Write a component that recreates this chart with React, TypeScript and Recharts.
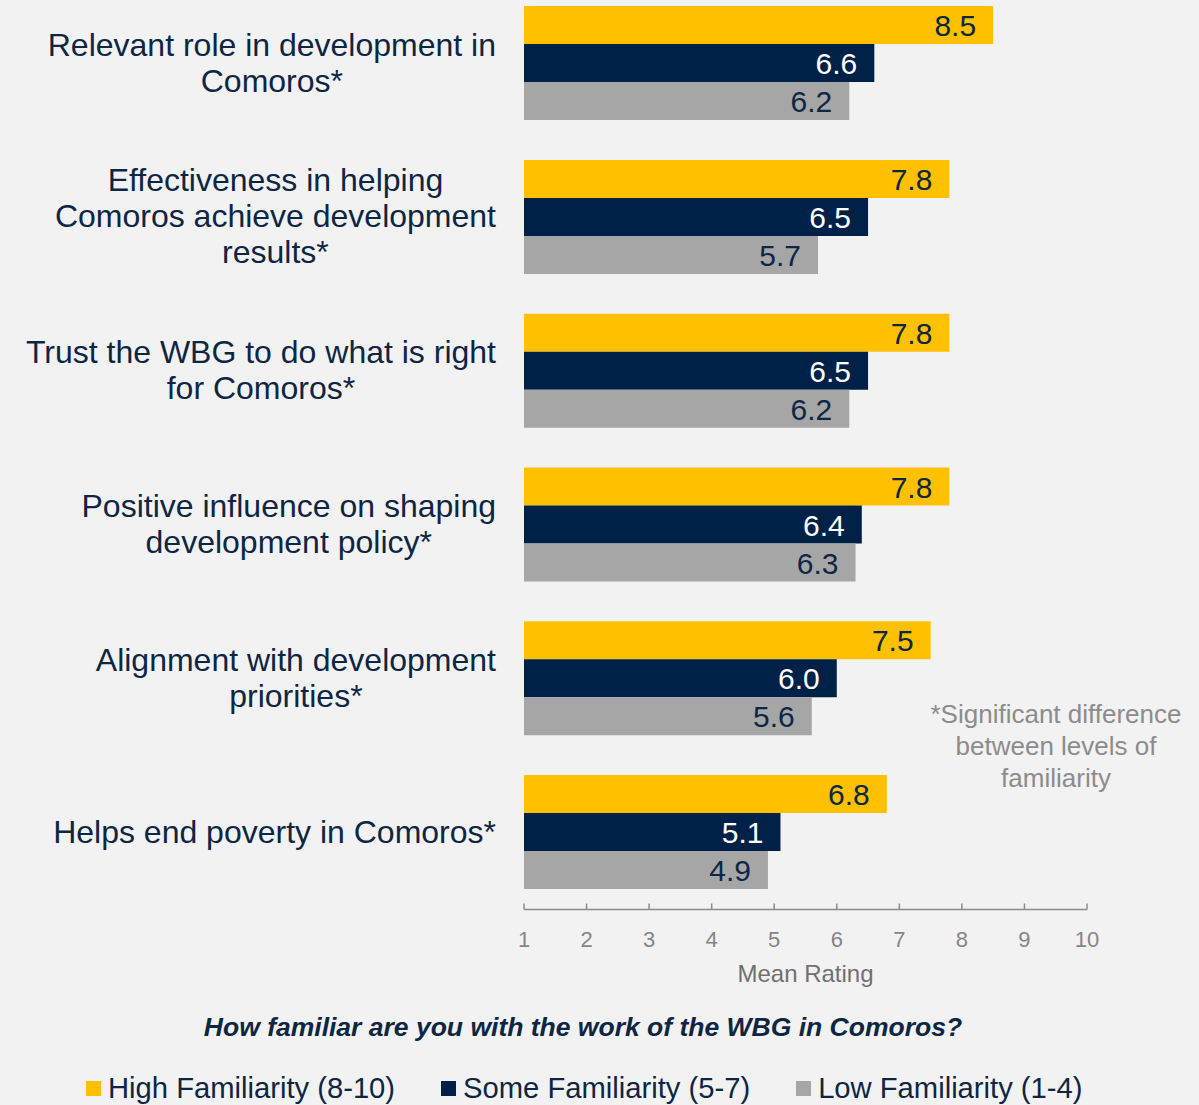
import React from "react";
import { BarChart, Bar, XAxis, YAxis, LabelList } from "recharts";

// categories (line breaks as in the slide)
const categories = [
  "Relevant role in development in\nComoros*",
  "Effectiveness in helping\nComoros achieve development\nresults*",
  "Trust the WBG to do what is right\nfor Comoros*",
  "Positive influence on shaping\ndevelopment policy*",
  "Alignment with development\npriorities*",
  "Helps end poverty in Comoros*",
];

const highFamiliarity = [8.5, 7.8, 7.8, 7.8, 7.5, 6.8];
const someFamiliarity = [6.6, 6.5, 6.5, 6.4, 6.0, 5.1];
const lowFamiliarity = [6.2, 5.7, 6.2, 6.3, 5.6, 4.9];

const xTicks = [1, 2, 3, 4, 5, 6, 7, 8, 9, 10];

const series = [
  { key: "high", name: "High Familiarity (8-10)", color: "#FFC000", labelColor: "#0d2644" },
  { key: "some", name: "Some Familiarity (5-7)", color: "#002147", labelColor: "#ffffff" },
  { key: "low", name: "Low Familiarity (1-4)", color: "#A6A6A6", labelColor: "#0d2644" },
];

const data = categories.map((category, i) => ({
  category,
  high: highFamiliarity[i],
  some: someFamiliarity[i],
  low: lowFamiliarity[i],
}));

const FONT = "'Liberation Sans', Arial, sans-serif";
const NAVY_TEXT = "#0d2644";

let ctx: CanvasRenderingContext2D | null = null;
function measure(text: string, font: string) {
  if (!ctx) ctx = document.createElement("canvas").getContext("2d");
  if (!ctx) return text.length * 16;
  ctx.font = font;
  return ctx.measureText(text).width;
}

// multi-line label, lines centred on each other, block right-aligned at x
const CategoryTick = (props: any) => {
  const { x, y, payload } = props;
  const lines = String(payload.value).split("\n");
  const size = 32;
  const lh = 36;
  const maxW = Math.max(...lines.map((l) => measure(l, `${size}px 'Liberation Sans'`)));
  const cx = x - maxW / 2;
  return (
    <g>
      {lines.map((l, i) => (
        <text
          key={i}
          x={cx}
          y={y + (i - (lines.length - 1) / 2) * lh + 10}
          textAnchor="middle"
          fontSize={size}
          fontFamily={FONT}
          fill={NAVY_TEXT}
        >
          {l}
        </text>
      ))}
    </g>
  );
};

const ValueTick = (props: any) => {
  const { x, y, payload } = props;
  return (
    <g>
      <line x1={x} x2={x} y1={y - 6} y2={y} stroke="#8c8c8c" strokeWidth={1.5} />
      <text x={x} y={y + 37} textAnchor="middle" fontSize={22} fontFamily={FONT} fill="#858585">
        {payload.value}
      </text>
    </g>
  );
};

const makeValueLabel = (color: string) => (props: any) => {
  const { x, y, width, height, value } = props;
  return (
    <text
      x={Number(x) + Number(width) - 17}
      y={Number(y) + Number(height) / 2 + 11}
      textAnchor="end"
      fontSize={30}
      fontFamily={FONT}
      fill={color}
    >
      {Number(value).toFixed(1)}
    </text>
  );
};

const AxisTitle = (props: any) => {
  const vb = props.viewBox || { x: 524, y: 923.5, width: 563 };
  return (
    <text
      x={vb.x + vb.width / 2}
      y={vb.y + 72}
      textAnchor="middle"
      fontSize={24}
      fontFamily={FONT}
      fill="#707070"
    >
      Mean Rating
    </text>
  );
};

export default function App() {
  return (
    <div
      style={{
        position: "absolute",
        left: 0,
        top: 0,
        width: 1199,
        height: 1105,
        background: "#F2F2F2",
        overflow: "hidden",
        fontFamily: FONT,
      }}
    >
      <div style={{ position: "absolute", left: 0, top: -14 }}>
        <BarChart
          width={1199}
          height={1010}
          data={data}
          layout="vertical"
          margin={{ top: 0.7, right: 112, bottom: 26.5, left: 0 }}
          barCategoryGap={19.4}
          barGap={0}
        >
          <XAxis
            type="number"
            domain={[1, 10]}
            ticks={xTicks}
            interval={0}
            allowDataOverflow
            height={60}
            tickSize={0}
            tickMargin={0}
            tickLine={false}
            axisLine={{ stroke: "#8c8c8c", strokeWidth: 1.5 }}
            tick={<ValueTick />}
            label={AxisTitle}
          />
          <YAxis
            type="category"
            dataKey="category"
            width={524}
            tickSize={0}
            tickMargin={28}
            tickLine={false}
            axisLine={false}
            interval={0}
            tick={<CategoryTick />}
          />
          {series.map((s) => (
            <Bar key={s.key} dataKey={s.key} name={s.name} fill={s.color} isAnimationActive={false}>
              <LabelList dataKey={s.key} content={makeValueLabel(s.labelColor)} />
            </Bar>
          ))}
        </BarChart>
      </div>

      <div
        style={{
          position: "absolute",
          left: 906,
          top: 698,
          width: 300,
          textAlign: "center",
          fontSize: 26,
          lineHeight: "32px",
          color: "#8c8c8c",
          whiteSpace: "nowrap",
        }}
      >
        *Significant difference
        <br />
        between levels of
        <br />
        familiarity
      </div>

      <div
        style={{
          position: "absolute",
          left: 183,
          top: 1012,
          width: 800,
          textAlign: "center",
          fontSize: 26.5,
          lineHeight: "30px",
          fontWeight: "bold",
          fontStyle: "italic",
          color: NAVY_TEXT,
          whiteSpace: "nowrap",
        }}
      >
        How familiar are you with the work of the WBG in Comoros?
      </div>

      <div
        style={{
          position: "absolute",
          left: 86,
          top: 1072,
          display: "flex",
          alignItems: "center",
          gap: 46,
          fontSize: 29.2,
          lineHeight: "32px",
          color: NAVY_TEXT,
          whiteSpace: "nowrap",
        }}
      >
        {series.map((s) => (
          <div key={s.key} style={{ display: "flex", alignItems: "center" }}>
            <span style={{ width: 15, height: 15, background: s.color, marginRight: 7, display: "inline-block" }} />
            <span>{s.name}</span>
          </div>
        ))}
      </div>
    </div>
  );
}
